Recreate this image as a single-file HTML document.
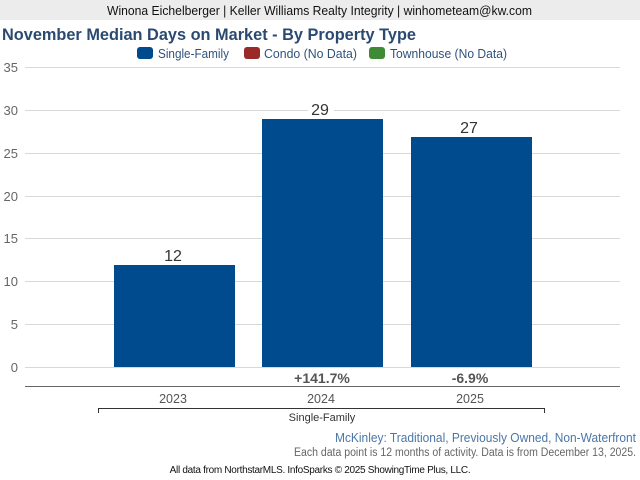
<!DOCTYPE html>
<html><head><meta charset="utf-8"><style>
html,body{margin:0;padding:0;background:#fff;}
body{width:640px;height:480px;overflow:hidden;}
svg{display:block;font-family:"Liberation Sans",Arial,sans-serif;}
</style></head><body>
<svg width="640" height="480" viewBox="0 0 640 480" xmlns="http://www.w3.org/2000/svg">
<rect x="0" y="0" width="640" height="20" fill="#ececec"/>
<text x="107" y="15" font-size="13" fill="#111" textLength="425" lengthAdjust="spacingAndGlyphs">Winona Eichelberger | Keller Williams Realty Integrity | winhometeam@kw.com</text>
<text x="2" y="40" font-size="16.5" font-weight="bold" fill="#2b4a6f" textLength="414" lengthAdjust="spacingAndGlyphs">November Median Days on Market - By Property Type</text>
<rect x="137" y="47" width="16" height="12" rx="3" fill="#004b8d"/>
<text x="158" y="58" font-size="13" fill="#2f527c" textLength="71" lengthAdjust="spacingAndGlyphs">Single-Family</text>
<rect x="244" y="47" width="16" height="12" rx="3" fill="#9a2a2a"/>
<text x="264" y="58" font-size="13" fill="#2f527c" textLength="93" lengthAdjust="spacingAndGlyphs">Condo (No Data)</text>
<rect x="369" y="47" width="16" height="12" rx="3" fill="#3f8a35"/>
<text x="390" y="58" font-size="13" fill="#2f527c" textLength="117" lengthAdjust="spacingAndGlyphs">Townhouse (No Data)</text>
<g stroke="#d8d8d8" stroke-width="1">
<line x1="25" y1="67.5" x2="620" y2="67.5"/>
<line x1="25" y1="110.5" x2="620" y2="110.5"/>
<line x1="25" y1="153.5" x2="620" y2="153.5"/>
<line x1="25" y1="196.5" x2="620" y2="196.5"/>
<line x1="25" y1="238.5" x2="620" y2="238.5"/>
<line x1="25" y1="281.5" x2="620" y2="281.5"/>
<line x1="25" y1="324.5" x2="620" y2="324.5"/>
<line x1="25" y1="367.5" x2="620" y2="367.5"/>
</g>
<g font-size="13" fill="#666" text-anchor="end">
<text x="18" y="72">35</text>
<text x="18" y="115">30</text>
<text x="18" y="158">25</text>
<text x="18" y="201">20</text>
<text x="18" y="243">15</text>
<text x="18" y="286">10</text>
<text x="18" y="329">5</text>
<text x="18" y="372">0</text>
</g>
<rect x="114" y="265" width="121" height="102" fill="#004b8d"/>
<rect x="262" y="119" width="121" height="248" fill="#004b8d"/>
<rect x="411" y="137" width="121" height="230" fill="#004b8d"/>
<rect x="308" y="103" width="26" height="14" fill="#fff"/>
<g font-size="16" fill="#333" text-anchor="middle">
<text x="173" y="261">12</text>
<text x="320" y="115">29</text>
<text x="469" y="133">27</text>
</g>
<g font-size="14" font-weight="bold" fill="#555" text-anchor="middle">
<text x="322" y="383">+141.7%</text>
<text x="470" y="383">-6.9%</text>
</g>
<line x1="25" y1="386.5" x2="620" y2="386.5" stroke="#666" stroke-width="1"/>
<g font-size="12.5" fill="#555" text-anchor="middle">
<text x="173" y="403">2023</text>
<text x="321" y="403">2024</text>
<text x="470" y="403">2025</text>
</g>
<path d="M98.5 413 V408.5 H544.5 V413" fill="none" stroke="#333" stroke-width="1"/>
<text x="322" y="421" font-size="11" fill="#333" text-anchor="middle">Single-Family</text>
<text x="335" y="442" font-size="13" fill="#4a76a8" textLength="301" lengthAdjust="spacingAndGlyphs">McKinley: Traditional, Previously Owned, Non-Waterfront</text>
<text x="294" y="456" font-size="11.5" fill="#666" textLength="342" lengthAdjust="spacingAndGlyphs">Each data point is 12 months of activity. Data is from December 13, 2025.</text>
<text x="320" y="473" font-size="10" fill="#111" text-anchor="middle" letter-spacing="-0.3">All data from NorthstarMLS. InfoSparks © 2025 ShowingTime Plus, LLC.</text>
</svg>
</body></html>
